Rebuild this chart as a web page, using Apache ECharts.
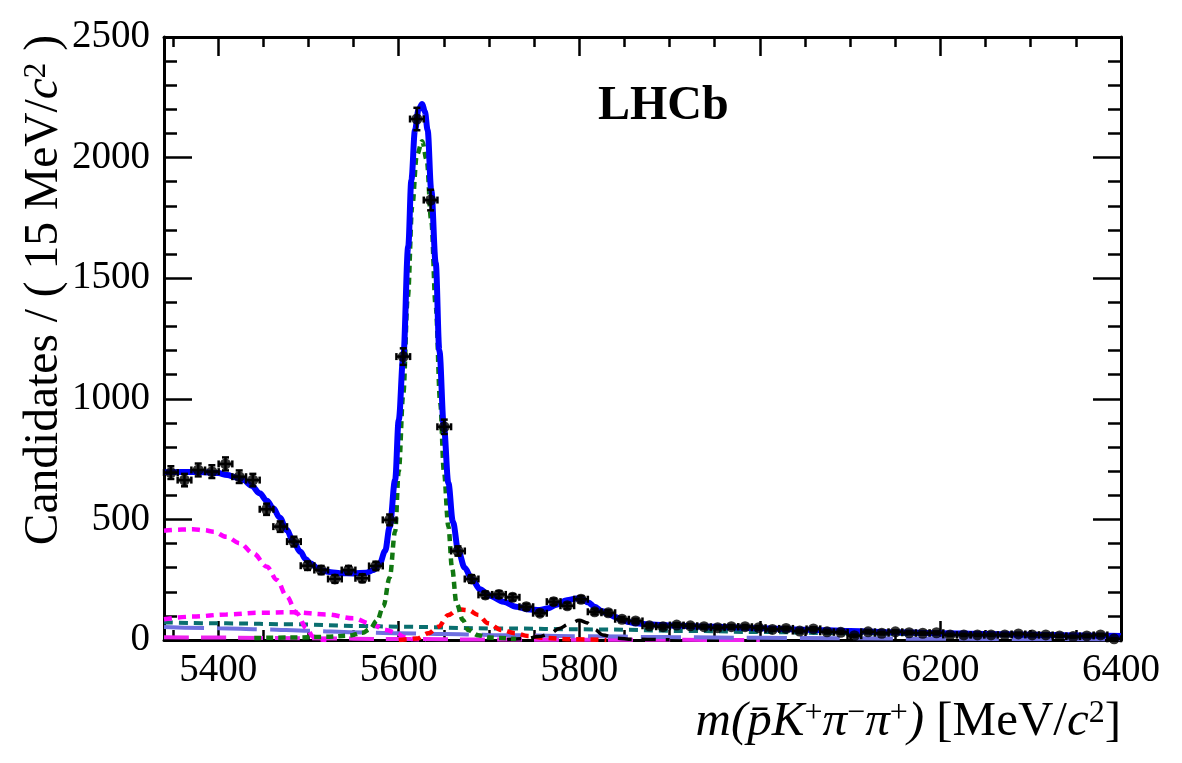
<!DOCTYPE html>
<html><head><meta charset="utf-8">
<script src="https://cdn.jsdelivr.net/npm/echarts@6/dist/echarts.min.js"></script>
<style>html,body{margin:0;padding:0;background:#fff}#c{width:1182px;height:763px}</style>
</head><body><div id="c"></div>
<script>
// ---------- data ----------
const binCenters = [5347.6, 5362.7, 5377.9, 5393.0, 5408.1, 5423.3, 5438.4, 5453.6, 5468.7, 5483.9,
  5499.0, 5514.1, 5529.3, 5544.4, 5559.6, 5574.7, 5589.9, 5605.0, 5620.1, 5635.3,
  5650.4, 5665.6, 5680.7, 5695.9, 5711.0, 5726.1, 5741.3, 5756.4, 5771.6, 5786.7,
  5801.9, 5817.0, 5832.1, 5847.3, 5862.4, 5877.6, 5892.7, 5907.9, 5923.0, 5938.1,
  5953.3, 5968.4, 5983.6, 5998.7, 6013.9, 6029.0, 6044.1, 6059.3, 6074.4, 6089.6,
  6104.7, 6119.9, 6135.0, 6150.1, 6165.3, 6180.4, 6195.6, 6210.7, 6225.9, 6241.0,
  6256.1, 6271.3, 6286.4, 6301.6, 6316.7, 6331.9, 6347.0, 6362.1, 6377.3, 6392.4];
const binHalfWidth = 7.57;
const counts = [694, 663, 705, 698, 730, 677, 663, 542, 470, 408,
  308, 290, 253, 290, 256, 307, 498, 1175, 2160, 1824,
  884, 369, 253, 187, 189, 177, 138, 111, 159, 142,
  169, 117, 113, 86, 79, 59, 55, 62, 59, 55,
  51, 55, 55, 51, 44, 48, 37, 46, 34, 32,
  18, 34, 28, 34, 30, 28, 30, 21, 21, 21,
  21, 21, 25, 21, 21, 17, 14, 17, 21, 5];

const totalFit = [[5340,696],[5360,697],[5380,697],[5400,692],[5410,684],[5420,674],[5428,663],[5437,640],
  [5446,608],[5454,577],[5461,546],[5468,508],[5476,456],[5483,410],[5491,366],[5497,335],[5502,318],
  [5510,298],[5516,287],[5525,281],[5535,277],[5550,276],[5564,279],[5572,290],[5579,318],[5585,370],
  [5590,470],[5596,663],[5600,912],[5605,1173],[5610.5,1631],[5614,1907],[5618,2114],[5622,2200],
  [5626,2222],[5629,2190],[5632,2114],[5636,1866],[5641,1562],[5645,1200],[5650,884],[5655,650],
  [5660,490],[5666,369],[5673,300],[5681,253],[5690,210],[5700,185],[5716,159],[5730,138],[5745,126],
  [5756,124],[5766,132],[5774,145],[5786,165],[5797,172],[5803,170],[5810,155],[5817,138],[5825,120],
  [5832,108],[5840,95],[5847,83],[5855,75],[5862,69],[5880,64],[5900,60],[5950,55],[6000,49],[6050,43],
  [6100,37],[6150,32],[6200,28],[6250,25],[6300,22],[6350,19],[6400,17]];
const signalPeak = [[5440,8],[5480,10],[5520,13],[5545,18],[5560,30],[5568,45],[5576,80],[5583,140],
  [5590,260],[5596,450],[5600,700],[5605,1020],[5610,1420],[5615,1800],[5620,2010],[5626,2068],
  [5631,1990],[5636,1740],[5641,1380],[5646,980],[5650,700],[5655,470],[5659,300],[5664,152],
  [5671,83],[5677,41],[5688,20],[5700,10],[5730,4]];
const partRecoA = [[5340,453],[5360,458],[5372,459],[5385,455],[5395,449],[5409,428],[5424,401],[5439,359],
  [5454,304],[5465,249],[5476,180],[5487,111],[5498,48],[5505,14],[5512,2],[5520,0]];
const partRecoB = [[5340,86],[5372,97],[5409,106],[5446,113],[5483,115],[5520,106],[5550,90],[5568,69],
  [5586,41],[5598,28],[5606,12],[5615,4],[5630,0]];
const combinatorial = [[5340,73],[5409,69],[5483,65],[5557,58],[5600,55],[5706,48],[5817,44],[5928,37],
  [6000,33],[6100,28],[6200,24],[6300,19],[6400,15]];
const reflA = [[5600,0],[5620,6],[5633,28],[5644,55],[5655,104],[5666,127],[5677,124],[5688,104],
  [5699,69],[5714,41],[5729,28],[5743,17],[5760,9],[5790,3],[5830,0]];
const reflB = [[5720,2],[5740,6],[5755,14],[5767,25],[5778,48],[5788,65],[5800,82],[5808,72],
  [5817,44],[5826,21],[5840,8],[5860,3],[5900,1]];
const bkgC = [[5340,54],[5400,49],[5450,44],[5500,38],[5550,32],[5600,28],[5650,25],[5700,21],[5800,16],
  [5900,12],[6000,9],[6100,7],[6200,5],[6300,4],[6400,3]];
const bkgD = [[5340,11],[5400,10],[5500,7],[5600,4],[5700,2],[5800,1],[6000,0]];

const xMajorTicks = [5400, 5600, 5800, 6000, 6200, 6400];
const xMinorTicks = [5350,5400,5450,5500,5550,5600,5650,5700,5750,5800,5850,5900,5950,6000,6050,6100,6150,6200,6250,6300,6350,6400];

// ---------- chart ----------
const FONT = '"Liberation Serif","Times New Roman",serif';
const chart = echarts.init(document.getElementById('c'), null, {renderer: 'canvas'});
const plain = v => String(Math.round(v));

function xAx(pos, ticks, len, showLabel, showLine) {
  return {
    type: 'value', min: 5340, max: 6400, position: pos,
    axisLine: {show: showLine, onZero: false, lineStyle: {color: '#000', width: 3}},
    axisTick: {show: true, inside: true, length: len, customValues: ticks, lineStyle: {color: '#000', width: 2.5}},
    axisLabel: {show: showLabel, customValues: xMajorTicks, formatter: plain, fontFamily: FONT, fontSize: 39, color: '#000', margin: 11},
    splitLine: {show: false}
  };
}
function yAx(pos, showLabel) {
  return {
    type: 'value', min: 0, max: 2500, interval: 500, position: pos,
    axisLine: {show: true, onZero: false, lineStyle: {color: '#000', width: 3}},
    axisTick: {show: true, inside: true, length: 28, lineStyle: {color: '#000', width: 2.5}},
    minorTick: {show: true, splitNumber: 5, length: 13, lineStyle: {color: '#000', width: 2.5}},
    axisLabel: {show: showLabel, formatter: plain, fontFamily: FONT, fontSize: 39, color: '#000', margin: 14},
    splitLine: {show: false}
  };
}
function curve(data, color, width, dash, z) {
  return {
    type: 'line', data: data, xAxisIndex: 0, yAxisIndex: 0, smooth: 0.35, smoothMonotone: 'x',
    showSymbol: false, symbol: 'none', z: z, silent: true,
    lineStyle: {color: color, width: width, type: dash}
  };
}

const pts = binCenters.map((x, i) => [x, counts[i]]);

const option = {
  animation: false,
  backgroundColor: '#fff',
  grid: {left: 164, right: 61, top: 37, bottom: 123},
  xAxis: [xAx('bottom', xMajorTicks, 19, true, true), xAx('bottom', xMinorTicks, 10, false, false),
          xAx('top', xMajorTicks, 19, false, true), xAx('top', xMinorTicks, 10, false, false)],
  yAxis: [yAx('left', true), yAx('right', false)],
  series: [
    curve(bkgD, '#ee22ee', 4, [25, 12], 2),
    curve(bkgC, '#6f6fe0', 4, [40, 13], 2),
    curve(combinatorial, '#0a6f6f', 4, [9, 6], 2),
    curve(partRecoB, '#ff00ff', 4.5, [8, 6], 2),
    curve(partRecoA, '#ff00ff', 4.5, [8, 6], 2),
    curve(reflA, '#ff0000', 4.5, [8, 6], 2),
    curve(reflB, '#000000', 3.5, [14, 10], 2),
    curve(signalPeak, '#117711', 4.5, [7, 5], 3),
    curve(totalFit, '#0000ff', 6, 'solid', 4),
    {
      type: 'custom', xAxisIndex: 0, yAxisIndex: 0, z: 5, silent: true,
      data: pts,
      renderItem: function (params, api) {
        const x = api.value(0), y = api.value(1), e = Math.sqrt(y);
        const c = api.coord([x, y]);
        const l = api.coord([x - binHalfWidth, y]), r = api.coord([x + binHalfWidth, y]);
        const t = api.coord([x, y + e]), b = api.coord([x, y - e]);
        const st = {stroke: '#000', lineWidth: 2.5};
        const cap = 3.5;
        return {type: 'group', children: [
          {type: 'line', shape: {x1: l[0], y1: c[1], x2: r[0], y2: c[1]}, style: st},
          {type: 'line', shape: {x1: c[0], y1: t[1], x2: c[0], y2: b[1]}, style: st},
          {type: 'line', shape: {x1: l[0], y1: c[1] - cap, x2: l[0], y2: c[1] + cap}, style: st},
          {type: 'line', shape: {x1: r[0], y1: c[1] - cap, x2: r[0], y2: c[1] + cap}, style: st},
          {type: 'line', shape: {x1: c[0] - cap, y1: t[1], x2: c[0] + cap, y2: t[1]}, style: st},
          {type: 'line', shape: {x1: c[0] - cap, y1: b[1], x2: c[0] + cap, y2: b[1]}, style: st}
        ]};
      }
    },
    {type: 'scatter', data: pts, xAxisIndex: 0, yAxisIndex: 0, symbol: 'circle', symbolSize: 11,
     itemStyle: {color: '#000'}, z: 6, silent: true}
  ],
  graphic: [
    {type: 'text', x: 598, y: 107, style: {text: 'LHCb', fontFamily: FONT, fontWeight: 'bold', fontSize: 48, fill: '#000', align: 'left', verticalAlign: 'middle'}},
    {type: 'text', x: 45, y: 35, rotation: Math.PI / 2,
     style: {text: '{r|Candidates / ( 15 MeV/}{i|c}{s|2}{r| )}', align: 'right', verticalAlign: 'middle',
       rich: {
         r: {fontFamily: FONT, fontSize: 47.5, fill: '#000'},
         i: {fontFamily: FONT, fontSize: 47.5, fontStyle: 'italic', fill: '#000'},
         s: {fontFamily: FONT, fontSize: 31, fill: '#000', verticalAlign: 'top'}
       }}},
    {type: 'text', x: 1121, y: 722,
     style: {text: '{i|m(p\u0304K}{s|+}{i|\u03c0}{s|\u2212}{i|\u03c0}{s|+}{i|)}{r| [MeV/}{i|c}{s|2}{r|]}', align: 'right', verticalAlign: 'middle',
       rich: {
         r: {fontFamily: FONT, fontSize: 49, fill: '#000'},
         i: {fontFamily: FONT, fontSize: 49, fontStyle: 'italic', fill: '#000'},
         s: {fontFamily: FONT, fontSize: 32, fill: '#000', verticalAlign: 'top'}
       }}}
  ]
};
chart.setOption(option);
</script></body></html>
